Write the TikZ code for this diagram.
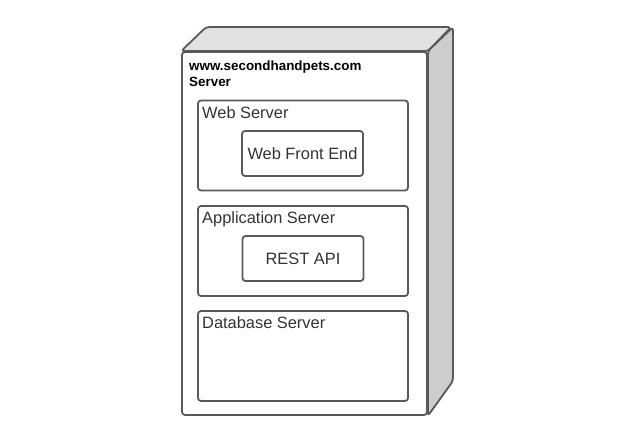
\documentclass[tikz,border=0pt]{standalone}
\usepackage{fontspec}
\setmainfont{Liberation Sans}
\usepackage{tikz}
\usetikzlibrary{positioning}
\definecolor{edgegray}{HTML}{595959}
\definecolor{topgray}{HTML}{E2E2E2}
\definecolor{sidegray}{HTML}{CDCDCD}
\definecolor{labeldark}{HTML}{333333}

\begin{document}
\begin{tikzpicture}[
    x=1pt, y=-1pt,
    line join=round,
    every node/.style={font=\fontsize{16.4}{19}\selectfont, text=labeldark},
    box/.style={draw=edgegray, line width=1.8pt, rounded corners=3pt, fill=white, inner sep=0pt},
    facefill/.style={draw=edgegray, line width=1.8pt, rounded corners=3pt}
]
    \useasboundingbox (0,0) rectangle (640,443);

    % Server node - front face
    \node[box, minimum width=245pt, minimum height=363pt] (srv) at (304.5,233.5) {};

    % 3D effect - top face
    \filldraw[facefill, fill=topgray] (srv.north west) -- ++(25,-24) -- ++(245,0) -- (srv.north east) -- cycle;

    % 3D effect - right face
    \filldraw[facefill, fill=sidegray] (srv.north east) -- ++(25,-24) -- ++(0,354) -- (srv.south east) -- cycle;

    % Server title (base = last line)
    \node[anchor=base west, inner sep=0pt, text=black, align=left,
          font=\fontsize{13.4}{16}\selectfont\bfseries] (title) at (189,87)
          {www.secondhandpets.com\\Server};

    % Execution environments
    \node[box, minimum width=210pt, minimum height=90pt] (websrv) at (303,145.5) {};
    \node[box, minimum width=210pt, minimum height=90pt] (appsrv) at (303,251) {};
    \node[box, minimum width=210pt, minimum height=90pt] (dbsrv) at (303,356) {};

    \node[anchor=base west, inner sep=0pt] (weblbl) at (202,119) {Web Server};
    \node[anchor=base west, inner sep=0pt] (applbl) at (202,224) {Application Server};
    \node[anchor=base west, inner sep=0pt] (dblbl) at (202,329) {Database Server};

    % Components
    \node[box, minimum width=121pt, minimum height=45pt] (webfront) at (302.5,153.5) {Web Front End};
    \node[box, minimum width=121pt, minimum height=45pt] (restapi) at (303,258.5) {REST API};
\end{tikzpicture}
\end{document}
